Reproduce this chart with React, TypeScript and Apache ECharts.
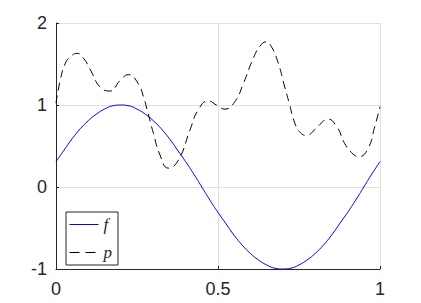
import React, { useEffect, useRef } from "react";
import * as echarts from "echarts";

const fX: number[] = [0, 0.025, 0.05, 0.075, 0.1, 0.125, 0.15, 0.175, 0.2, 0.225, 0.25, 0.275, 0.3, 0.325, 0.35, 0.375, 0.4, 0.425, 0.45, 0.475, 0.5, 0.525, 0.55, 0.575, 0.6, 0.625, 0.65, 0.675, 0.7, 0.725, 0.75, 0.775, 0.8, 0.825, 0.85, 0.875, 0.9, 0.925, 0.95, 0.975, 1];
const fY: number[] = [0.31, 0.45, 0.59, 0.71, 0.81, 0.89, 0.95, 0.99, 1.0, 0.99, 0.95, 0.89, 0.81, 0.71, 0.59, 0.45, 0.31, 0.16, 0.0, -0.16, -0.31, -0.45, -0.59, -0.71, -0.81, -0.89, -0.95, -0.99, -1.0, -0.99, -0.95, -0.89, -0.81, -0.71, -0.59, -0.45, -0.31, -0.16, 0.0, 0.16, 0.31];

const pX: number[] = [0, 0.013, 0.029, 0.045, 0.065, 0.085, 0.106, 0.136, 0.167, 0.198, 0.224, 0.254, 0.27, 0.28, 0.301, 0.321, 0.347, 0.378, 0.414, 0.439, 0.47, 0.495, 0.521, 0.552, 0.578, 0.609, 0.63, 0.648, 0.665, 0.686, 0.706, 0.72, 0.737, 0.755, 0.773, 0.799, 0.819, 0.837, 0.866, 0.891, 0.912, 0.935, 0.963, 0.984, 1];
const pY: number[] = [1.02, 1.3, 1.51, 1.59, 1.63, 1.57, 1.43, 1.22, 1.17, 1.3, 1.37, 1.26, 1.1, 0.96, 0.65, 0.39, 0.23, 0.33, 0.7, 0.94, 1.05, 1.0, 0.95, 1.04, 1.26, 1.57, 1.72, 1.77, 1.71, 1.51, 1.22, 1.02, 0.78, 0.66, 0.63, 0.7, 0.78, 0.83, 0.74, 0.53, 0.42, 0.37, 0.47, 0.74, 0.98];

const xTicks: number[] = [0, 0.5, 1];
const yTicks: number[] = [-1, 0, 1, 2];

export default function App() {
  const ref = useRef<HTMLDivElement>(null);
  useEffect(() => {
    if (!ref.current) return;
    const chart = echarts.init(ref.current, undefined, { renderer: "svg" });
    const axisColor = "#262626";
    const gridColor = "#e0e0e0";
    chart.setOption({
      animation: false,
      backgroundColor: "#ffffff",
      grid: { left: 56, right: 41, top: 23, bottom: 34, containLabel: false },
      xAxis: {
        type: "value",
        min: xTicks[0],
        max: xTicks[xTicks.length - 1],
        interval: 0.5,
        axisLine: { show: true, onZero: false, lineStyle: { color: axisColor, width: 1 } },
        axisTick: { show: true, inside: true, length: 3, lineStyle: { color: axisColor } },
        splitLine: { show: true, lineStyle: { color: gridColor, width: 1 } },
        axisLabel: {
          color: axisColor,
          fontFamily: "Liberation Sans",
          fontSize: 18,
          margin: 11,
          formatter: (v: number) => String(v),
        },
      },
      yAxis: {
        type: "value",
        min: yTicks[0],
        max: yTicks[yTicks.length - 1],
        interval: 1,
        axisLine: { show: true, onZero: false, lineStyle: { color: axisColor, width: 1 } },
        axisTick: { show: true, inside: true, length: 3, lineStyle: { color: axisColor } },
        splitLine: { show: true, lineStyle: { color: gridColor, width: 1 } },
        axisLabel: {
          color: axisColor,
          fontFamily: "Liberation Sans",
          fontSize: 18,
          margin: 9,
        },
      },
      legend: {
        show: true,
        orient: "vertical",
        left: 66,
        top: 212,
        padding: [4, 6, 4, 3],
        itemWidth: 29,
        itemHeight: 14,
        itemGap: 11,
        borderColor: axisColor,
        borderWidth: 1,
        backgroundColor: "#ffffff",
        itemStyle: { opacity: 0 },
        textStyle: {
          fontFamily: "Liberation Serif",
          fontStyle: "italic",
          fontSize: 17,
          color: axisColor,
        },
        data: [
          { name: "f", lineStyle: { width: 1, color: "#0000ff", type: "solid" } },
          { name: "p", lineStyle: { width: 1, color: "#000000", type: [10, 6] } },
        ],
      },
      series: [
        {
          name: "f",
          type: "line",
          data: fX.map((x, i) => [x, fY[i]]),
          smooth: 0.5,
          showSymbol: false,
          symbol: "none",
          lineStyle: { color: "#0000ff", width: 1 },
          itemStyle: { color: "#0000ff" },
        },
        {
          name: "p",
          type: "line",
          data: pX.map((x, i) => [x, pY[i]]),
          smooth: 0.5,
          showSymbol: false,
          symbol: "none",
          lineStyle: { color: "#000000", width: 1, type: [8, 5] },
          itemStyle: { color: "#000000" },
        },
      ],
    });
    return () => chart.dispose();
  }, []);
  return (
    <div
      ref={ref}
      style={{ position: "fixed", left: 0, top: 0, width: 421, height: 303 }}
    />
  );
}
